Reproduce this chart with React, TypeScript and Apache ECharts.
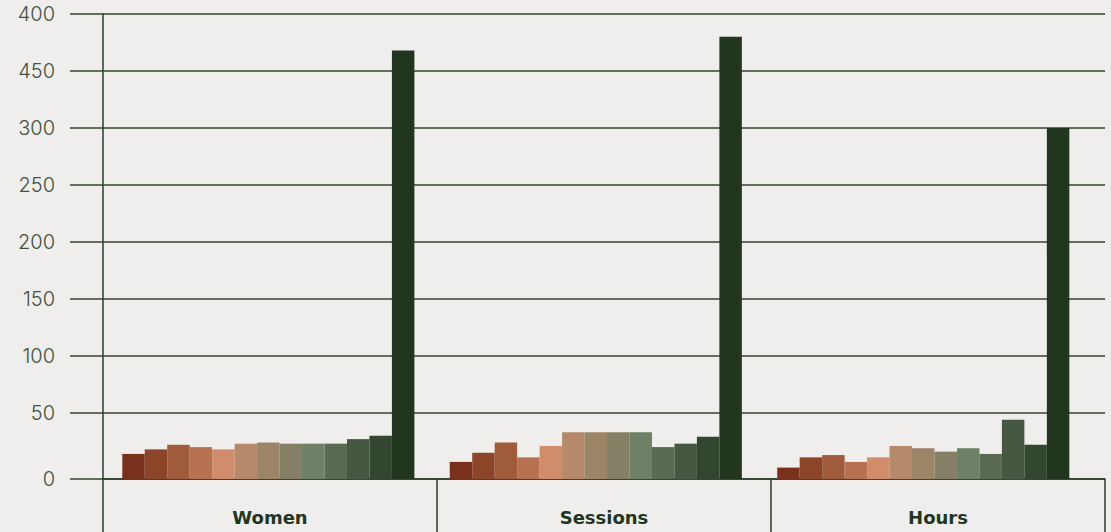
import React, { useEffect, useRef } from "react";
import * as echarts from "echarts";

const categories = ["Women", "Sessions", "Hours"];

const yTickValues = [-8, 50, 100, 150, 200, 250, 300, 350, 400];
const yTickLabels = ["0", "50", "100", "150", "200", "250", "300", "450", "400"];

const women = [14, 18, 22, 20, 18, 23, 24, 23, 23, 23, 27, 30, 368];
const sessions = [7, 15, 24, 11, 21, 33, 33, 33, 33, 20, 23, 29, 380];
const hours = [2, 11, 13, 7, 11, 21, 19, 16, 19, 14, 44, 22, 300];

const barColors = [
  "#7a311b",
  "#8d4529",
  "#a05b3c",
  "#b87252",
  "#d18d6b",
  "#b5896a",
  "#9c8467",
  "#857f65",
  "#6e8065",
  "#5a6a53",
  "#465841",
  "#33462f",
  "#22361f",
];

const lineColor = "#2b3b29";

export default function App() {
  const ref = useRef<HTMLDivElement>(null);

  useEffect(() => {
    if (!ref.current) return;
    const chart = echarts.init(ref.current, null, { renderer: "svg" });
    const series = barColors.map((color, i) => ({
      type: "bar",
      xAxisIndex: 1,
      yAxisIndex: 1,
      barGap: "0%",
      barCategoryGap: "10.8%",
      itemStyle: { color },
      data: [women[i], sessions[i], hours[i]],
    }));
    chart.setOption({
      animation: false,
      backgroundColor: "#efeeec",
      grid: [
        { left: 103, right: 6, top: 14, bottom: 53 },
        { left: 104.6, right: 24, top: 14, bottom: 53 },
      ],
      xAxis: [
        {
          gridIndex: 0,
          type: "category",
          data: categories,
          boundaryGap: true,
          axisLine: { show: true, onZero: false, lineStyle: { color: lineColor, width: 1.5 } },
          axisTick: {
            show: true,
            length: 60,
            interval: 0,
            lineStyle: { color: lineColor, width: 1.5 },
          },
          axisLabel: {
            margin: 29,
            fontFamily: "DejaVu Sans",
            fontWeight: "bold",
            fontSize: 18,
            color: "#22361f",
          },
        },
        {
          gridIndex: 1,
          type: "category",
          data: categories,
          show: false,
        },
      ],
      yAxis: [
        {
          gridIndex: 0,
          type: "value",
          min: -8,
          max: 400,
          axisLine: { show: true, lineStyle: { color: lineColor, width: 1.5 } },
          axisTick: {
            show: true,
            length: 33,
            customValues: yTickValues,
            lineStyle: { color: "#34452f", width: 1.5 },
          },
          axisLabel: {
            customValues: yTickValues,
            margin: 48,
            fontFamily: "Inter",
            fontWeight: 300,
            fontSize: 20,
            color: "#40523d",
            formatter: (v: number) => {
              const idx = yTickValues.indexOf(v);
              return idx >= 0 ? yTickLabels[idx] : "";
            },
          },
          splitLine: { show: true, lineStyle: { color: "#34452f", width: 1.5 } },
        },
        {
          gridIndex: 1,
          type: "value",
          min: -8,
          max: 400,
          startValue: -8,
          show: false,
          splitLine: { show: false },
        },
      ],
      series,
    });
    return () => chart.dispose();
  }, []);

  return (
    <div
      ref={ref}
      style={{ position: "absolute", left: 0, top: 0, width: 1111, height: 532 }}
    />
  );
}
